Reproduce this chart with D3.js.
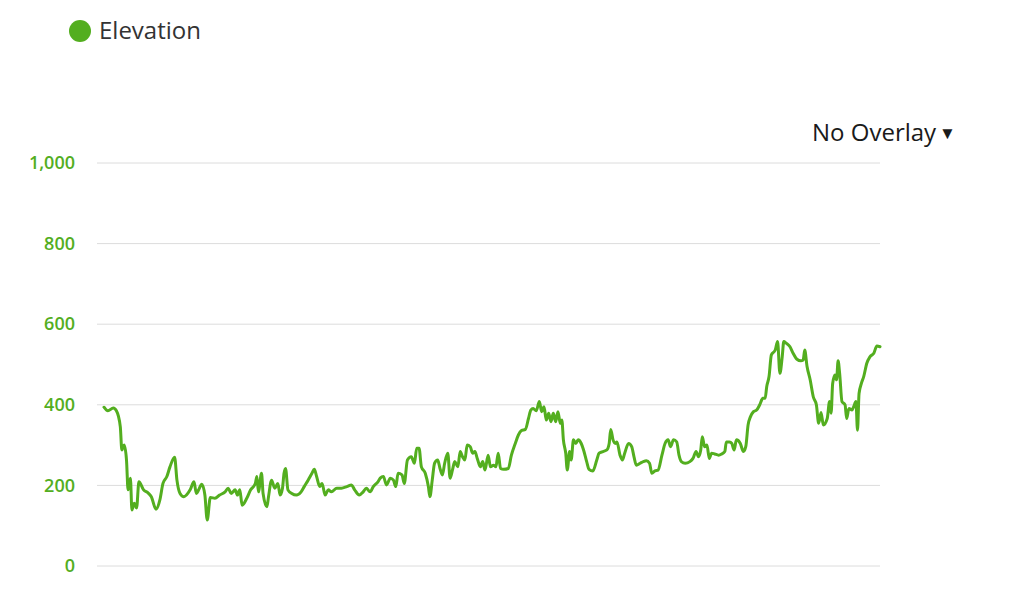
<!DOCTYPE html>
<html><head><meta charset="utf-8">
<script src="https://cdn.jsdelivr.net/npm/d3@7"></script>
<style>
html,body{margin:0;padding:0;background:#fff;}
svg{display:block;font-family:"Open Sans",sans-serif;}
</style></head>
<body>
<svg id="chart" width="1024" height="616"></svg>
<script>
const seriesName = "Elevation";
const overlayLabel = "No Overlay";
const yTicks = [0, 200, 400, 600, 800, 1000];
const distance = [0.0,0.5,1.2,1.6,2.1,2.3,2.6,2.9,3.1,3.4,3.6,3.9,4.2,4.5,5.1,5.7,6.1,6.7,7.2,7.6,8.1,8.5,9.1,9.4,9.8,10.3,11.1,11.6,11.9,12.2,12.6,13.0,13.3,13.7,14.3,14.9,
15.6,16.0,16.4,16.9,17.2,17.5,17.8,18.4,18.9,19.5,19.7,19.9,20.3,20.5,21.0,21.2,21.6,22.0,22.4,22.7,23.0,23.2,23.4,23.7,24.2,24.8,25.4,25.8,26.3,26.8,27.1,27.4,27.8,28.1,28.5,28.9,29.3,30.0,30.6,31.3,31.9,32.3,
32.9,33.4,33.8,34.3,34.7,35.3,35.6,36.0,36.4,36.9,37.3,37.6,37.9,38.4,38.7,39.1,39.6,40.0,40.3,40.6,40.9,41.4,41.8,42.0,42.3,42.6,43.0,43.3,43.6,43.9,44.3,44.6,44.9,45.2,45.6,45.9,46.2,46.5,46.8,47.2,47.5,47.8,48.1,48.5,
48.8,49.1,49.5,49.8,50.2,50.5,50.8,51.1,51.5,52.1,52.5,53.0,53.4,53.8,54.3,54.7,55.0,55.3,55.7,56.1,56.4,56.7,57.0,57.3,57.6,57.9,58.2,58.5,58.8,59.0,59.2,59.5,59.7,60.0,60.2,60.5,60.8,61.1,61.5,61.8,62.2,62.5,63.0,63.5,63.8,64.3,64.8,65.1,65.3,65.6,
65.9,66.1,66.5,66.8,67.1,67.6,68.0,68.3,68.6,69.1,69.5,69.9,70.3,70.6,71.0,71.4,71.9,72.3,72.7,73.0,73.4,73.8,74.1,74.4,74.9,75.5,75.9,76.3,76.6,76.9,77.1,77.4,77.7,78.0,78.3,78.7,79.2,79.6,80.0,80.2,80.6,80.9,81.2,81.5,82.0,82.4,82.7,
83.0,83.3,83.7,84.1,84.5,84.9,85.2,85.4,85.7,86.0,86.5,86.8,87.1,87.4,87.6,87.9,88.4,88.8,89.3,89.8,90.1,90.3,90.6,91.0,91.4,91.8,92.1,92.4,92.7,93.2,93.5,93.7,93.9,94.2,94.4,94.6,94.8,95.1,95.5,95.7,96.0,96.4,96.6,96.9,97.1,97.3,97.6,97.9,98.3,98.7,99.2,99.6,100.0];
const elevation = [394,385,392,385,346,288,300,263,189,218,139,156,144,209,189,181,172,141,164,205,222,246,270,213,180,172,189,209,180,189,203,176,114,170,168,176,
184,193,180,189,176,189,151,168,189,205,222,184,230,180,147,172,213,193,205,176,193,230,242,189,180,176,184,197,213,230,240,222,197,205,176,189,184,193,193,197,201,189,
176,184,193,184,197,209,218,222,201,218,213,197,230,226,205,263,271,255,292,292,246,230,197,172,213,255,263,242,226,255,280,218,238,259,246,284,271,263,300,296,280,284,267,246,
259,238,275,246,250,246,280,242,240,242,275,304,325,336,339,366,387,391,385,408,383,395,362,379,358,379,358,383,354,362,313,280,238,284,263,313,304,313,304,288,259,240,236,263,280,284,288,304,339,313,
304,308,275,263,280,304,296,271,250,255,259,261,255,230,236,238,275,304,313,296,313,308,275,259,255,259,267,284,271,288,321,296,300,267,280,278,275,278,284,308,308,304,288,313,304,284,296,
350,370,383,387,400,416,416,445,470,524,536,557,478,519,557,553,544,528,513,509,511,536,495,462,420,400,354,381,350,366,408,379,453,474,462,509,478,408,400,366,391,387,395,408,337,428,453,470,503,519,528,546,544];

const green = "#53ae1f";
const svg = d3.select("#chart");
const data = distance.map((d,i)=>({d, e: elevation[i]}));

const x = d3.scaleLinear().domain([0, 100]).range([104, 880]);
const y = d3.scaleLinear().domain([0, 1000]).range([566, 163]);

// grid
svg.append("g").selectAll("line").data(yTicks).join("line")
  .attr("x1", 97).attr("x2", 880)
  .attr("y1", d=>y(d)).attr("y2", d=>y(d))
  .attr("stroke", "#dcdcdc").attr("stroke-width", 1);

// y axis labels
const yAxis = d3.axisLeft(y).tickValues(yTicks).tickSize(0).tickPadding(0).tickFormat(d3.format(","));
const ga = svg.append("g").attr("transform", "translate(75,0)").call(yAxis);
ga.select(".domain").remove();
ga.selectAll("text").attr("fill", green).attr("font-size", 18).attr("font-weight", 600)
  .attr("font-family", "'Open Sans',sans-serif");

// line
const line = d3.line().x(d=>x(d.d)).y(d=>y(d.e)).curve(d3.curveMonotoneX);
svg.append("path").datum(data).attr("d", line)
  .attr("fill", "none").attr("stroke", green).attr("stroke-width", 3)
  .attr("stroke-linejoin", "round").attr("stroke-linecap", "round");

// legend
svg.append("circle").attr("cx", 80).attr("cy", 31).attr("r", 11).attr("fill", green);
svg.append("text").attr("x", 99).attr("y", 39).text(seriesName)
  .attr("font-size", 24).attr("fill", "#333");

// overlay label
const ov = svg.append("text").attr("x", 812).attr("y", 141).attr("font-size", 24).attr("fill", "#1a1a1a");
ov.append("tspan").text(overlayLabel);
ov.append("tspan").text("▼").attr("font-size", 17).attr("dx", 3).attr("dy", -2);
</script>
</body></html>
